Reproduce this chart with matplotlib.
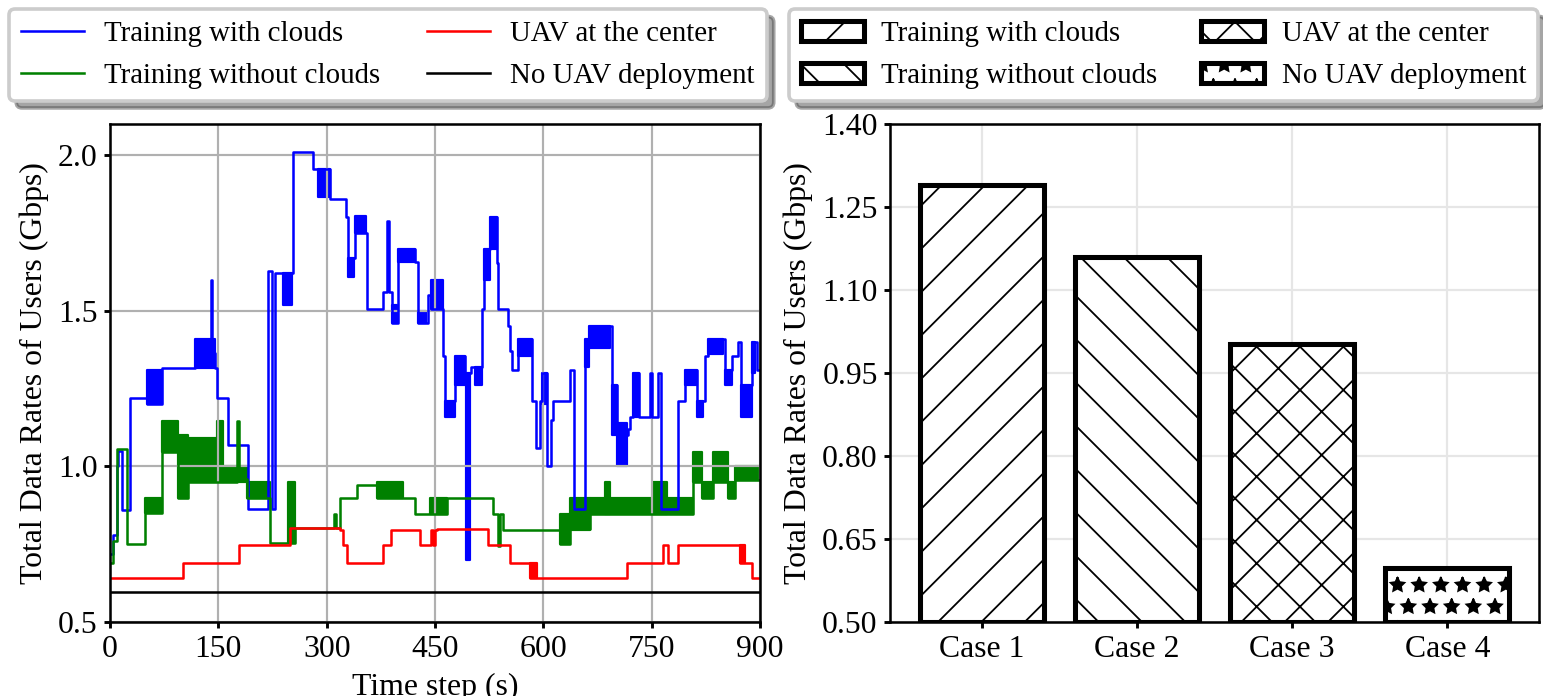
import matplotlib
matplotlib.use("Agg")
import matplotlib.pyplot as plt

plt.rcParams["font.family"] = "serif"
plt.rcParams["font.serif"] = ["Liberation Serif", "DejaVu Serif"]
plt.rcParams["font.size"] = 8.8
plt.rcParams["legend.fontsize"] = 8
plt.rcParams["hatch.linewidth"] = 0.5
plt.rcParams["axes.linewidth"] = 0.7
plt.rcParams["xtick.major.size"] = 1.6
plt.rcParams["ytick.major.size"] = 1.6
plt.rcParams["xtick.major.pad"] = 2
plt.rcParams["ytick.major.pad"] = 1.8

# === Left panel: total data rate over time (step change points) ===
blue_t = [0, 4.6, 9.2, 11.5, 16.1, 27.7, 50.8, 71.5, 117.7, 139.5, 141.5, 145.4, 147.7, 163.8,
          191.5, 219.2, 223.8, 228.5, 253.8, 281.5, 304.6, 326.7, 330, 339.2, 355.4, 378.4, 384,
          386, 390, 399.2, 422.3, 427, 440.7, 445, 461.6, 463.9, 477.7, 491.6, 499.4, 514.6,
          518.3, 526.2, 535.4, 537.7, 551.5, 553.9, 556.2, 565.4, 583.9, 589.9, 595.4, 597.7,
          605.5, 610.2, 613.9, 636.9, 642.5, 657.7, 663.7, 694.6, 701.5, 717.7, 720, 724.6, 733,
          747.7, 750, 759.2, 762.5, 786.9, 796.2, 812.3, 823.8, 828.4, 851.5, 860.8, 870, 873.2,
          888.4, 895.4, 900]
blue_v = [0.72, 0.78, 1.00, 1.05, 0.86, 1.22, 1.20, 1.315, 1.365, 1.60, 1.365, 1.316, 1.22, 1.07,
          0.862, 1.627, 0.862, 1.62, 2.01, 1.955, 1.86, 1.80, 1.67, 1.75, 1.505, 1.56, 1.79,
          1.56, 1.46, 1.70, 1.656, 1.46, 1.55, 1.505, 1.355, 1.21, 1.355, 1.30, 1.318, 1.505,
          1.70, 1.80, 1.655, 1.505, 1.45, 1.37, 1.31, 1.41, 1.21, 1.06, 1.21, 1.30,
          1.00, 1.15, 1.21, 1.31, 0.862, 1.40, 1.45, 1.26, 1.10, 1.12, 1.16, 1.30, 1.16,
          1.30, 1.16, 1.30, 0.862, 1.21, 1.31, 1.21, 1.355, 1.41, 1.31, 1.355, 1.40, 1.26,
          1.40, 1.31, 1.31]
# fast toggling segments: (start, end, low, high)
blue_bands = [(50.8, 71.5, 1.20, 1.31), (117.7, 145.4, 1.315, 1.41), (240, 251.5, 1.52, 1.62),
              (288.5, 304.6, 1.865, 1.955), (330, 338, 1.61, 1.67), (339.2, 355, 1.75, 1.805),
              (390, 397, 1.46, 1.52), (399.2, 422, 1.656, 1.70), (427, 438, 1.46, 1.50),
              (445, 461.6, 1.505, 1.60), (464, 477.7, 1.16, 1.21), (477.7, 491.6, 1.26, 1.355),
              (493, 499, 0.70, 1.30), (505.4, 514.6, 1.26, 1.318), (518.3, 526.2, 1.60, 1.70),
              (526.2, 535.4, 1.70, 1.80), (565.4, 583.9, 1.355, 1.41), (597.7, 604.6, 1.20, 1.30),
              (657.7, 663.7, 1.32, 1.41), (663.7, 692.3, 1.38, 1.45), (694.6, 701.5, 1.10, 1.26),
              (701.5, 715.4, 1.00, 1.14), (724.6, 733, 1.16, 1.30), (796.2, 812.3, 1.26, 1.31),
              (812.3, 821.5, 1.16, 1.21), (828.4, 849.2, 1.36, 1.41), (851.5, 860.8, 1.26, 1.31),
              (873.2, 888.4, 1.16, 1.26), (888.4, 893, 1.30, 1.40)]

green_t = [0, 4.6, 9.2, 23.1, 48.5, 71.5, 94.6, 108.5, 156.9, 176, 178, 189.2, 221.5, 256.1,
           310.6, 313, 318.4, 341.5, 369.2, 406.1, 422.3, 443, 466.2, 530.8, 537.7, 539.5, 544.6,
           623.1, 636.9, 664.6, 807.7, 819.2, 835.4, 856.1, 865.4, 900]
green_v = [0.69, 0.76, 1.055, 0.75, 0.85, 1.045, 0.90, 0.95, 0.95, 1.146, 0.96, 0.90, 0.755, 0.803,
           0.846, 0.803, 0.90, 0.94, 0.90, 0.90, 0.846, 0.846, 0.90, 0.846, 0.745, 0.846, 0.797,
           0.75, 0.80, 0.846, 0.95, 0.90, 0.95, 0.90, 0.955, 0.955]
green_bands = [(48.5, 71.5, 0.85, 0.90), (71.5, 94.6, 1.045, 1.146), (94.6, 108.5, 0.90, 1.10),
               (108.5, 147.7, 0.95, 1.09), (147.7, 156.9, 0.95, 1.146), (156.9, 189.2, 0.95, 1.00),
               (189.2, 221.5, 0.90, 0.95), (246.9, 256.1, 0.755, 0.95), (369.2, 406.1, 0.90, 0.95),
               (443, 466.2, 0.846, 0.90), (623.1, 636.9, 0.75, 0.846), (636.9, 664.6, 0.797, 0.90),
               (664.6, 807.7, 0.846, 0.90), (685.4, 692.3, 0.846, 0.95), (752.3, 770.8, 0.846, 0.95),
               (807.7, 819.2, 0.95, 1.045), (819.2, 835.4, 0.90, 0.95), (835.4, 856.1, 0.95, 1.045),
               (856.1, 865.4, 0.90, 0.95), (865.4, 900, 0.955, 1.00)]

red_t = [0, 100.6, 179, 249.2, 318.4, 322, 327.7, 378.4, 389, 429.2, 444.4, 446.5, 450, 452.3,
         523.9, 553.9, 581.6, 590.8, 715.4, 766, 772, 786.9, 872.3, 879.2, 888.4, 900]
red_v = [0.643, 0.69, 0.746, 0.803, 0.797, 0.746, 0.69, 0.746, 0.797, 0.746, 0.797, 0.746, 0.797, 0.80,
         0.746, 0.69, 0.643, 0.643, 0.69, 0.746, 0.69, 0.746, 0.69, 0.69, 0.643, 0.643]
red_bands = [(581.6, 590.8, 0.643, 0.69), (872.3, 879.2, 0.69, 0.746)]

black_t = [0, 900]
black_v = [0.595, 0.595]

# === Right panel: average data rate per case ===
cases = ["Case 1", "Case 2", "Case 3", "Case 4"]
case_rates = [1.29, 1.16, 1.003, 0.597]
labels = ["Training with clouds", "Training without clouds", "UAV at the center", "No UAV deployment"]
hatches = ["//", "\\\\", "xx", "**"]

fig = plt.figure(figsize=(1543 / 260, 696 / 260), dpi=260)
ax1 = fig.add_axes([0.0713, 0.1063, 0.4213, 0.7155])
ax2 = fig.add_axes([0.5768, 0.1063, 0.4206, 0.7155])

series = [(blue_t, blue_v, blue_bands, "blue", labels[0]),
          (green_t, green_v, green_bands, "green", labels[1]),
          (red_t, red_v, red_bands, "red", labels[2]),
          (black_t, black_v, [], "black", labels[3])]
for t, v, bands, c, lab in series:
    ax1.plot(t, v, drawstyle="steps-post", color=c, lw=0.7, label=lab)
    for t0, t1, lo, hi in bands:
        ax1.fill_between([t0, t1], [lo, lo], [hi, hi], color=c, lw=0.6)

ax1.set_xlim(0, 900)
ax1.set_ylim(0.5, 2.1)
ax1.set_xticks([0, 150, 300, 450, 600, 750, 900])
ax1.set_yticks([0.5, 1.0, 1.5, 2.0])
ax1.grid(True, color="#b0b0b0", lw=0.6)
ax1.set_xlabel("Time step (s)", labelpad=2.5)
ax1.set_ylabel("Total Data Rates of Users (Gbps)", labelpad=2.5)

fig.legend(*ax1.get_legend_handles_labels(), loc="center left", bbox_to_anchor=(9 / 1543, 0.921),
           borderaxespad=0, ncol=2, shadow=True, handlelength=2.2, handletextpad=0.7,
           columnspacing=1.6, labelspacing=0.55)

for i in range(len(cases)):
    ax2.bar(i, case_rates[i] - 0.5, bottom=0.5, width=0.8, facecolor="white", edgecolor="black",
            lw=1.4, hatch=hatches[i], label=labels[i])
ax2.set_xticks(range(len(cases)))
ax2.set_xticklabels(cases)
ax2.set_ylim(0.5, 1.4)
ax2.set_yticks([0.50, 0.65, 0.80, 0.95, 1.10, 1.25, 1.40])
ax2.set_yticklabels(["0.50", "0.65", "0.80", "0.95", "1.10", "1.25", "1.40"])
ax2.set_axisbelow(True)
ax2.grid(True, color="#e6e6e6", lw=0.6)
ax2.set_ylabel("Total Data Rates of Users (Gbps)", labelpad=2.5)

fig.legend(*ax2.get_legend_handles_labels(), loc="center left", bbox_to_anchor=(789 / 1543, 0.921),
           borderaxespad=0, ncol=2, shadow=True, handlelength=2.2, handletextpad=0.6,
           columnspacing=1.5, labelspacing=0.55)

fig.savefig("out.png", dpi=260)
